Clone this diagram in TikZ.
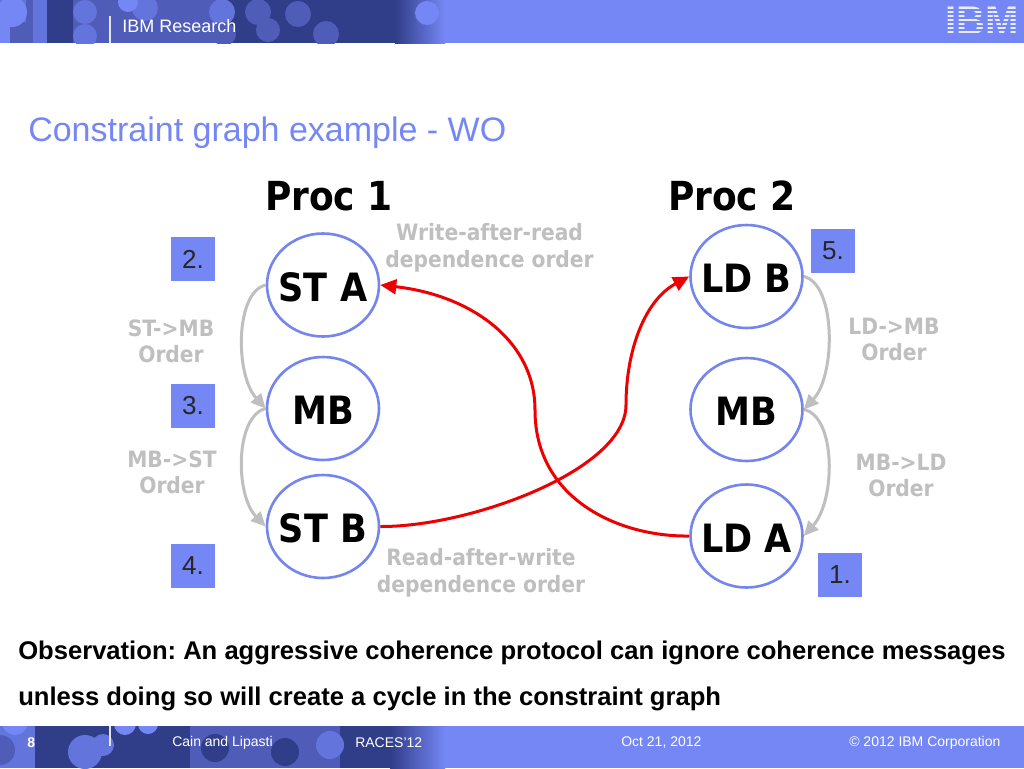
\documentclass[tikz,border=0pt]{standalone}
\usepackage{fontspec}
\setmainfont{Liberation Sans}
\newfontfamily\vbf[FakeStretch=0.9]{DejaVu Sans}
\newcommand{\vb}{\vbf\bfseries}
\usetikzlibrary{shapes.geometric,arrows.meta,shadings}
\newcommand{\fs}[1]{\pgfmathsetlengthmacro\myfs{#1*0.75pt}\fontsize{\myfs}{\myfs}\selectfont}
\newcommand{\nl}[1]{\makebox[0pt][c]{\raisebox{-.42em}[0pt][0pt]{#1}}}
\definecolor{ibm}{HTML}{7587F5}
\definecolor{ibmdark}{HTML}{303D88}
\definecolor{ibmmid}{HTML}{4F5DB8}
\definecolor{ibmlow}{HTML}{6374DC}
\definecolor{ringc}{HTML}{7485EE}
\definecolor{grayl}{HTML}{BFBFBF}
\definecolor{redl}{HTML}{EE0000}
\tikzset{
  gnode/.style={draw=ringc,line width=2.6*0.75pt,fill=white,ellipse,minimum width=112*0.75pt,minimum height=103*0.75pt,inner sep=0pt,font=\vb\fs{39}},
  numbox/.style={fill=ibm,minimum width=44*0.75pt,minimum height=44*0.75pt,inner sep=0pt,font=\fs{26},text=black!85},
  graytxt/.style={text=grayl,font=\vb\fs{22.5},align=center,inner sep=0pt},
  proct/.style={font=\vb\fs{40},inner sep=0pt},
  grayarrow/.style={draw=grayl,line width=3*0.75pt,-{Triangle[length=11pt,width=10pt,fill=grayl]}},
  redarrow/.style={draw=redl,line width=3*0.75pt,-{Triangle[length=12pt,width=11pt,fill=redl]}},
  whitetxt/.style={text=white,font=\fs{14},inner sep=0pt,anchor=west},
  bodytxt/.style={font=\bfseries\frenchspacing\fs{25.6},inner sep=0pt,anchor=west},
}
\begin{document}
\begin{tikzpicture}[x=0.75pt,y=-0.75pt]
\useasboundingbox (0,0) rectangle (1024,768);
\fill[white] (0,0) rectangle (1024,768);
% header band
\fill[ibm] (0,0) rectangle (1024,43);
\begin{scope}
\clip (0,0) rectangle (1024,43);
\shade[left color=ibmdark,right color=ibm] (395,0) rectangle (445,43);
\fill[ibmmid] (10,0) rectangle (47,43);
\fill[ibmlow] (33,0) rectangle (47,43);
\fill[ibmdark] (47,0) rectangle (73,43);
\fill[ibmmid] (73,0) rectangle (225,43);
\fill[ibmdark] (225,0) rectangle (395,43);
\fill[ibmlow] (0,0) rectangle (26,22);
\fill[ibm] (12,12) circle (15);
\fill[ibmlow] (85,12) circle (12);
\fill[ibmlow] (85,36) circle (12);
\fill[ibmlow] (145,8) circle (13);
\fill[ibm] (128,2) circle (10);
\fill[ibmlow] (222,12) circle (13);
\fill[ibmmid] (258,12) circle (13);
\fill[ibmmid] (268,30) circle (12);
\fill[ibmmid] (298,14) circle (13);
\fill[ibmmid] (326,34) circle (13);
\fill[ibmmid] (224,34) circle (12);
\fill[ibm] (427,13) circle (12);
\end{scope}
\draw[white!80!ibm,line width=.8pt] (110,16) -- (110,43);
\node[text=white,font=\fs{18},inner sep=0pt,anchor=west] (hdr) at (122,26) {IBM Research};
% IBM logo
\node[text=white!85!ibm,font=\bfseries\fs{40},inner sep=0pt] (logo) at (982,20.5) {IBM};
\foreach \yy in {8.5,12.5,...,36} \fill[ibm] (940,\yy) rectangle (1024,\yy+2);
% footer band
\fill[ibm] (0,726) rectangle (1024,768);
\begin{scope}
\clip (0,726) rectangle (1024,768);
\shade[left color=ibmdark,right color=ibm] (390,726) rectangle (445,768);
\fill[ibmlow] (0,726) rectangle (35,768);
\fill[ibmdark] (35,726) rectangle (190,768);
\fill[ibmmid] (190,726) rectangle (340,768);
\fill[ibmdark] (340,726) rectangle (390,768);
\fill[ibmmid] (0,750) circle (15);
\fill[ibmlow] (85,752) circle (17);
\fill[ibmlow] (103,745) circle (11);
\fill[ibm] (15,722) circle (13);
\fill[ibm] (125,724) circle (11);
\fill[ibm] (148,724) circle (10);
\fill[ibmdark] (215,748) circle (14);
\fill[ibmdark] (285,752) circle (14);
\fill[ibmlow] (330,745) circle (14);
\end{scope}
\draw[white!80!ibm,line width=.8pt] (110,726) -- (110,746);
\node[whitetxt,font=\bfseries\fs{14}] (pg) at (27,742.5) {8};
\node[whitetxt] (ft1) at (172,742.5) {Cain and Lipasti};
\node[whitetxt] (ft2) at (355,742.5) {RACES’12};
\node[whitetxt] (ft3) at (621,742.5) {Oct 21, 2012};
\node[whitetxt] (ft4) at (849,742.5) {© 2012 IBM Corporation};
% title
\node[text=ibm,font=\fs{34},inner sep=0pt,anchor=base west] (title) at (28,141) {Constraint graph example - WO};
\node[proct] (p1) at (329,196) {Proc 1};
\node[proct] (p2) at (732,196) {Proc 2};
% nodes
\node[gnode] (sta) at (323,285) {\nl{ST A}};
\node[gnode] (mb1) at (323,408.5) {\nl{MB}};
\node[gnode] (stb) at (323,526.5) {\nl{ST B}};
\node[gnode] (ldb) at (746.5,276.5) {\nl{LD B}};
\node[gnode] (mb2) at (746.5,409.5) {\nl{MB}};
\node[gnode] (lda) at (746.5,536) {\nl{LD A}};
\draw[redarrow] (lda.west) .. controls (620,537) and (535,500) .. (535,410) .. controls (535,340) and (470,295) .. (sta.east);
\draw[redarrow] (stb.east) .. controls (470,527) and (626,470) .. (626,405) .. controls (626,350) and (645,300) .. (ldb.west);
\draw[grayarrow] (sta.west) .. controls (235,292) and (235,375) .. (mb1.west);
\draw[grayarrow] (mb1.west) .. controls (235,416) and (235,495) .. (stb.west);
\draw[grayarrow] (ldb.east) .. controls (836,284) and (836,375) .. (mb2.east);
\draw[grayarrow] (mb2.east) .. controls (836,416) and (836,500) .. (lda.east);
% number boxes
\node[numbox] (n2) at (193,259) {2.};
\node[numbox] (n3) at (193,406) {3.};
\node[numbox] (n4) at (193,566) {4.};
\node[numbox] (n5) at (833,251) {5.};
\node[numbox] (n1) at (840,575) {1.};
% gray labels
\node[graytxt] (l1) at (171,341.5) {ST->MB\\[3pt]Order};
\node[graytxt] (l2) at (172,472.5) {MB->ST\\[3pt]Order};
\node[graytxt] (l3) at (894,339.5) {LD->MB\\[3pt]Order};
\node[graytxt] (l4) at (901,475.5) {MB->LD\\[3pt]Order};
\node[graytxt] (l5) at (489.5,248) {Write-after-read\\[3pt]dependence order};
\node[graytxt] (l6) at (481,573) {Read-after-write\\[3pt]dependence order};
% body
\node[bodytxt] (b1) at (18,653) {Observation: An aggressive coherence protocol can ignore coherence messages};
\node[bodytxt] (b2) at (18,699) {unless doing so will create a cycle in the constraint graph};
\end{tikzpicture}
\end{document}
